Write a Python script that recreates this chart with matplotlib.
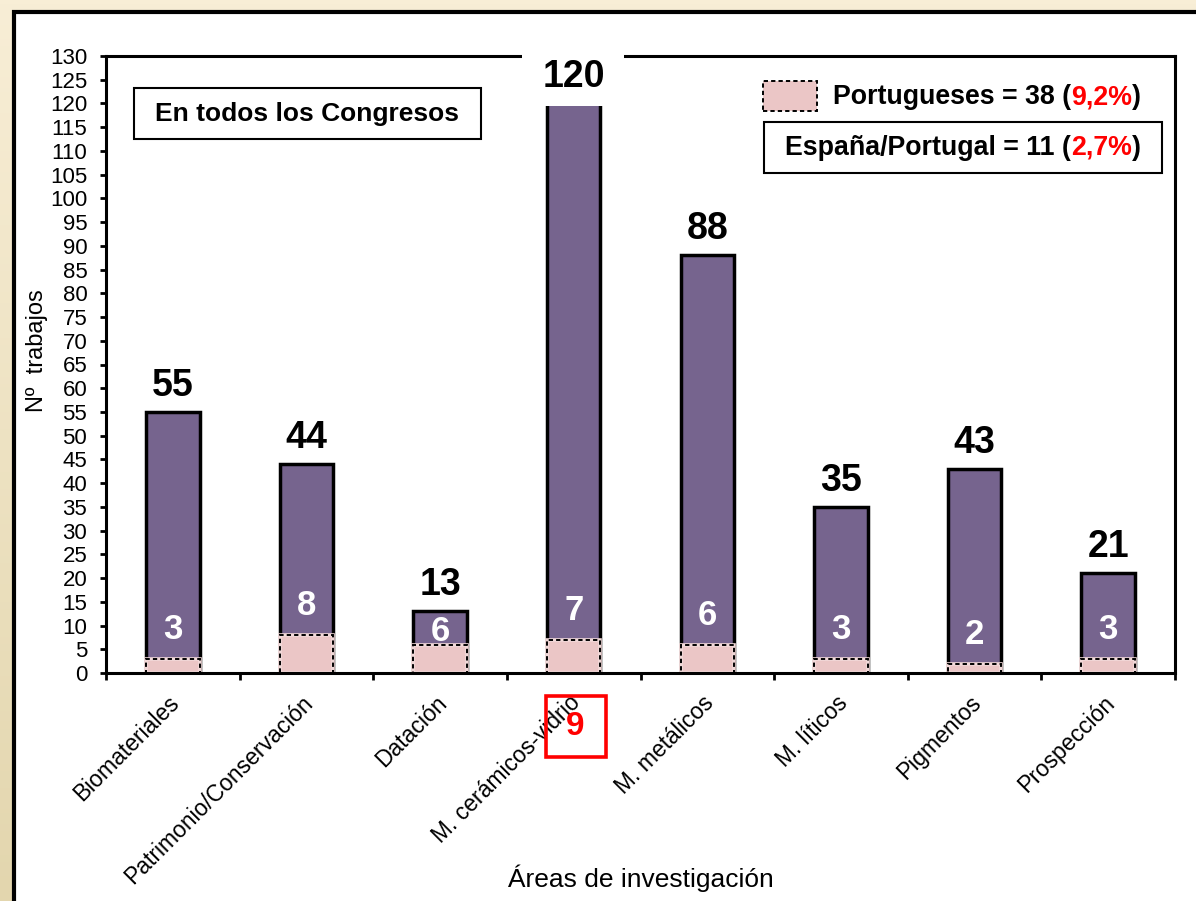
import numpy as np
import matplotlib.pyplot as plt
from matplotlib.patches import Rectangle
from matplotlib.colors import LinearSegmentedColormap
from matplotlib.transforms import ScaledTranslation

plt.rcParams['font.family'] = ['Liberation Sans', 'DejaVu Sans']

# ---- data ----
areas = ['Biomateriales', 'Patrimonio/Conservación', 'Datación',
         'M. cerámicos-vidrio', 'M. metálicos', 'M. líticos',
         'Pigmentos', 'Prospección']
totales = [55, 44, 13, 120, 88, 35, 43, 21]
portugueses = [3, 8, 6, 7, 6, 3, 2, 3]
esp_por_ceramicos = 9
yticks = list(range(0, 131, 5))

PURPLE = '#76648E'
PINK = '#EBC6C6'
PINK_EDGE = '#F2D9D9'
BEIGE_TOP = '#F8EED6'
BEIGE_BOT = '#E3D6AE'

fig = plt.figure(figsize=(11.96, 9.01), dpi=100)

# beige background with a soft vertical gradient
bg = fig.add_axes([0, 0, 1, 1], zorder=-10)
grad = np.linspace(0, 1, 256).reshape(-1, 1)
cmap = LinearSegmentedColormap.from_list('beige', [BEIGE_TOP, BEIGE_BOT])
bg.imshow(grad, aspect='auto', cmap=cmap, extent=[0, 1, 0, 1], origin='upper')
bg.set_axis_off()
# white framed panel
bg.add_patch(Rectangle((13.5 / 1196, -0.05), 1.2, (901 - 11.5) / 901 + 0.05,
                       transform=bg.transAxes, fc='white', ec='black',
                       lw=3, clip_on=False))

ax = fig.add_axes([106 / 1196, 1 - 673 / 901, 1069 / 1196, 617 / 901])
ax.set_facecolor('white')
x = np.arange(len(areas))

# bars: totals behind, Portuguese share in front
ax.bar(x, totales, width=0.4, color=PURPLE, edgecolor='black', linewidth=2.5, zorder=1)
ax.bar(x, portugueses, width=0.4, color=PINK, edgecolor=PINK_EDGE, linewidth=2.6, zorder=1.1)
ax.bar(x, portugueses, width=0.4, fill=False, edgecolor='black', linewidth=1.4,
       linestyle=(0, (2.2, 1.6)), zorder=1.2)

ax.set_xlim(-0.5, 7.5)
ax.set_ylim(0, 130)
ax.set_yticks(yticks)
ax.set_xticks(np.arange(-0.5, 8, 1))
ax.set_xticklabels([])
ax.set_xticks(x, minor=True)
ax.set_xticklabels(areas, minor=True, rotation=45, ha='right',
                   rotation_mode='anchor', fontsize=16.5)
ax.tick_params(axis='x', which='minor', length=0, pad=13)
ax.tick_params(axis='x', which='major', length=5, width=2, direction='out')
ax.tick_params(axis='y', length=4.5, width=2, pad=9, labelsize=16)
shift = ScaledTranslation(-5 / 100, 0, fig.dpi_scale_trans)
for lbl in ax.get_xticklabels(minor=True):
    lbl.set_transform(lbl.get_transform() + shift)

for s in ax.spines.values():
    s.set_linewidth(2.2)
    s.set_color('black')

# white gap in the top frame behind the tallest label
ax.add_patch(Rectangle((2.614, 119.5), 0.763, 14, fc='white', ec='none',
                       clip_on=False, zorder=2.6))

# total labels
for xi, t in zip(x, totales):
    ax.annotate(str(t), xy=(xi, t), xytext=(0, 11.5), textcoords='offset points',
                ha='center', va='baseline', fontsize=27, fontweight='bold',
                color='black', zorder=3)

# Portuguese count labels
for xi, p, t in zip(x, portugueses, totales):
    ax.text(xi, min(p + 4.2, t - 6.3), str(p), ha='center', va='baseline',
            fontsize=25, fontweight='bold', color='white', zorder=3)

# highlighted España/Portugal count
ax.add_patch(Rectangle((2.79, -17.7), 0.45, 12.85, fill=False, ec='red', lw=2.6,
                       clip_on=False, zorder=5))
ax.text(3.01, -13.06, str(esp_por_ceramicos), ha='center', va='baseline',
        fontsize=24, fontweight='bold', color='red', zorder=6, clip_on=False)

# axis titles
ax.text(-0.0645, 0.522, 'Nº  trabajos', transform=ax.transAxes, rotation=90,
        ha='center', va='center', fontsize=17)
ax.text(0.5, -0.332, 'Áreas de investigación', transform=ax.transAxes,
        ha='center', va='center', fontsize=19)

# title box
ax.add_patch(Rectangle((0.0262, 0.8655), 0.3246, 0.0825, transform=ax.transAxes,
                       fc='white', ec='black', lw=1.5, zorder=4))
ax.text(0.1884, 0.9068, 'En todos los Congresos', transform=ax.transAxes,
        ha='center', va='center', fontsize=19, fontweight='bold', zorder=5)


def rich_text(x0, y0, parts, **kw):
    t = ax.text(x0, y0, parts[0][0], color=parts[0][1], transform=ax.transAxes,
                ha='left', va='center', zorder=5, **kw)
    for s, c in parts[1:]:
        t = ax.annotate(s, xy=(1, 0), xycoords=t, ha='left', va='bottom',
                        color=c, zorder=5, **kw)


# legend
ax.add_patch(Rectangle((0.6146, 0.9109), 0.0505, 0.0486, transform=ax.transAxes,
                       fc=PINK, ec='black', lw=1.4, linestyle=(0, (2.2, 1.6)),
                       zorder=4))
rich_text(0.680, 0.9335, [('Portugueses = 38 (', 'black'), ('9,2%', 'red'),
                          (')', 'black')], fontsize=19.3, fontweight='bold')
ax.add_patch(Rectangle((0.6155, 0.8104), 0.3723, 0.0826, transform=ax.transAxes,
                       fc='white', ec='black', lw=1.5, zorder=4))
rich_text(0.6352, 0.8517, [('España/Portugal = 11 (', 'black'), ('2,7%', 'red'),
                           (')', 'black')], fontsize=19.3, fontweight='bold')

fig.savefig('out.png', dpi=100)
